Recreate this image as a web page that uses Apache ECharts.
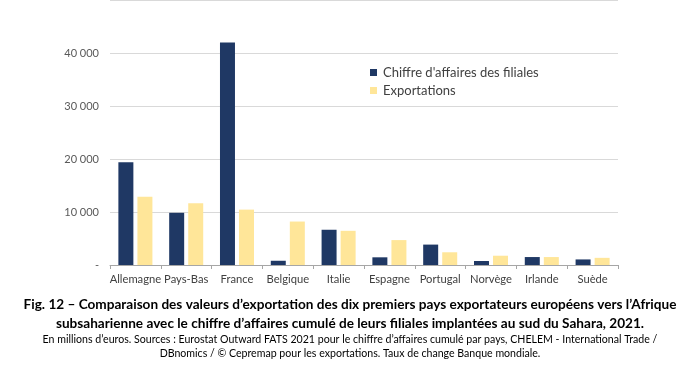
<!DOCTYPE html>
<html>
<head>
<meta charset="utf-8">
<script src="https://cdn.jsdelivr.net/npm/echarts@6/dist/echarts.min.js"></script>
<style>html,body{margin:0;padding:0;background:#fff}#c{width:700px;height:369px}</style>
</head>
<body>
<div id="c"></div>
<script>
var categories = ['Allemagne','Pays-Bas','France','Belgique','Italie','Espagne','Portugal','Norvège','Irlande','Suède'];
var filiales = [19400, 9850, 42000, 800, 6650, 1450, 3850, 750, 1500, 1050];
var exportations = [12900, 11650, 10450, 8200, 6450, 4700, 2400, 1750, 1500, 1350];
var seriesNames = ["Chiffre d'affaires des filiales", 'Exportations'];
var captionTitle1 = 'Fig. 12 – Comparaison des valeurs d’exportation des dix premiers pays exportateurs européens vers l’Afrique';
var captionTitle2 = 'subsaharienne avec le chiffre d’affaires cumulé de leurs filiales implantées au sud du Sahara, 2021.';
var captionNote1 = 'En millions d’euros. Sources : Eurostat Outward FATS 2021 pour le chiffre d’affaires cumulé par pays, CHELEM - International Trade /';
var captionNote2 = 'DBnomics / © Cepremap pour les exportations. Taux de change Banque mondiale.';

var FONT = 'Lato, "Open Sans", sans-serif';
var chart = echarts.init(document.getElementById('c'), null, {renderer: 'canvas'});
chart.setOption({
  animation: false,
  backgroundColor: '#ffffff',
  textStyle: {fontFamily: FONT},
  grid: {left: 110, right: 82, top: -2.5, bottom: 104, containLabel: false},
  legend: {
    orient: 'vertical', left: 365, top: 61, itemWidth: 7, itemHeight: 7, itemGap: 5,
    icon: 'rect',
    textStyle: {fontFamily: FONT, fontSize: 13, color: '#404040', padding: [0,0,0,1]},
    data: seriesNames
  },
  xAxis: {
    type: 'category', data: categories,
    axisLine: {lineStyle: {color: '#a6a6a6', width: 1}},
    axisTick: {show: true, length: 4, lineStyle: {color: '#a6a6a6'}, alignWithLabel: false},
    axisLabel: {fontFamily: FONT, fontSize: 11.2, color: '#404040', margin: 9, interval: 0}
  },
  yAxis: {
    type: 'value', min: 0, max: 50000, interval: 10000,
    axisLine: {show: false}, axisTick: {show: false},
    splitLine: {lineStyle: {color: '#d9d9d9', width: 1}},
    axisLabel: {
      fontFamily: FONT, fontSize: 11, color: '#595959', margin: 11, showMaxLabel: false,
      formatter: function (v) { if (v === 0) return '-'; return String(v).replace(/\B(?=(\d{3})+(?!\d))/g, ' '); }
    }
  },
  series: [
    {name: seriesNames[0], type: 'bar', data: filiales, barGap: '27%', barCategoryGap: '33%', itemStyle: {color: '#1f3864'}},
    {name: seriesNames[1], type: 'bar', data: exportations, itemStyle: {color: '#ffe699'}}
  ],
  graphic: [
    {type: 'text', left: 'center', top: 298, style: {text: captionTitle1, font: 'bold 13.6px ' + FONT, fill: '#000'}},
    {type: 'text', left: 'center', top: 317, style: {text: captionTitle2, font: 'bold 13.6px ' + FONT, fill: '#000'}},
    {type: 'text', left: 'center', top: 334, style: {text: captionNote1, font: '10.6px ' + FONT, fill: '#000'}},
    {type: 'text', left: 'center', top: 348, style: {text: captionNote2, font: '10.6px ' + FONT, fill: '#000'}}
  ]
});
</script>
</body>
</html>
